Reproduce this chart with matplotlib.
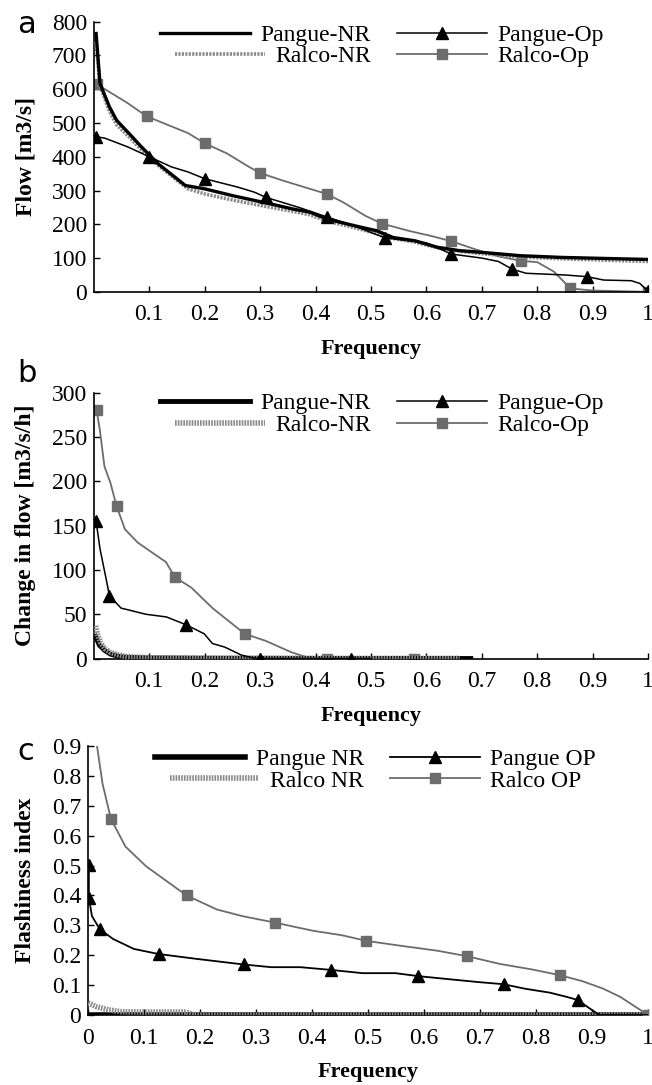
import matplotlib
matplotlib.use('Agg')
import matplotlib.pyplot as plt

plt.rcParams['font.family'] = ['Liberation Serif', 'DejaVu Serif']

# ---- panel a: flow duration curves ----
a_freq_pnr = [0.004, 0.011, 0.028, 0.041, 0.064, 0.086, 0.116, 0.146, 0.165, 0.2, 0.25, 0.32, 0.36, 0.39,
              0.42, 0.47, 0.51, 0.54, 0.58, 0.62, 0.66, 0.7, 0.77, 0.845, 0.92, 1.0]
a_flow_pnr = [765, 617, 548, 508, 468, 429, 379, 340, 315, 305, 285, 260, 245, 236,
              216, 196, 181, 161, 151, 132, 122, 117, 107, 102, 99, 96]
a_freq_rnr = [0.004, 0.011, 0.028, 0.041, 0.064, 0.086, 0.116, 0.146, 0.17, 0.2, 0.25, 0.32, 0.36, 0.39,
              0.42, 0.47, 0.51, 0.54, 0.58, 0.62, 0.66, 0.7, 0.77, 0.845, 0.92, 1.0]
a_flow_rnr = [740, 610, 535, 495, 458, 420, 375, 335, 305, 290, 272, 250, 238, 228,
              210, 190, 173, 158, 147, 130, 120, 113, 103, 98, 94, 90]
a_freq_pop = [0.003, 0.02, 0.06, 0.1, 0.14, 0.17, 0.2, 0.26, 0.29, 0.31, 0.37, 0.42, 0.47, 0.525,
              0.6, 0.645, 0.7, 0.73, 0.755, 0.78, 0.85, 0.89, 0.92, 0.97, 0.985, 1.0]
a_flow_pop = [460, 455, 430, 400, 370, 355, 335, 310, 295, 280, 250, 222, 195, 160,
              145, 112, 100, 90, 67, 55, 50, 45, 35, 33, 25, 2]
a_mark_pop = [0, 3, 6, 9, 11, 13, 15, 18, 21, 25]
a_freq_rop = [0.005, 0.03, 0.06, 0.095, 0.14, 0.17, 0.2, 0.24, 0.28, 0.3, 0.34, 0.39, 0.42, 0.45,
              0.49, 0.52, 0.57, 0.61, 0.645, 0.69, 0.73, 0.77, 0.8, 0.83, 0.86, 0.9, 1.0]
a_flow_rop = [615, 590, 560, 520, 490, 470, 440, 410, 370, 352, 330, 305, 290, 265,
              225, 202, 180, 165, 150, 125, 105, 92, 88, 60, 10, 4, 0]
a_mark_rop = [0, 3, 6, 9, 12, 15, 18, 21, 24, 26]

# ---- panel b: change in flow ----
b_freq_pnr = [0.003, 0.01, 0.02, 0.03, 0.045, 0.06, 0.1, 0.2, 0.4, 0.68]
b_chg_pnr = [25, 15, 9, 5, 2.5, 1.5, 0.8, 0.4, 0.2, 0.1]
b_freq_rnr = [0.003, 0.006, 0.012, 0.02, 0.03, 0.045, 0.06, 0.1, 0.2, 0.4, 0.66]
b_chg_rnr = [37, 28, 18, 11, 7, 4, 2, 1, 0.5, 0.3, 0.2]
b_freq_pop = [0.004, 0.011, 0.023, 0.028, 0.049, 0.094, 0.131, 0.167, 0.199, 0.214, 0.236,
              0.266, 0.289, 0.3, 0.464, 0.5]
b_chg_pop = [155, 124, 87, 71, 57, 50, 47, 38, 28, 17, 13, 4, 0.5, 0, 0, 0]
b_mark_pop = [0, 3, 7, 13, 14]
b_freq_rop = [0.005, 0.011, 0.019, 0.03, 0.041, 0.056, 0.079, 0.109, 0.13, 0.146, 0.176, 0.214,
              0.25, 0.272, 0.31, 0.357, 0.387, 0.42, 0.578, 0.6]
b_chg_rop = [280, 257, 217, 198, 172, 146, 131, 118, 109, 92, 80, 57, 39, 28, 20, 7, 1, 0, 0, 0]
b_mark_rop = [0, 4, 9, 13, 17, 18]

# ---- panel c: flashiness index ----
c_freq_pnr = [0.0, 0.5, 1.0]
c_fi_pnr = [0.0, 0.0, 0.0]
c_freq_rnr = [0.0, 0.015, 0.037, 0.06, 0.1, 0.175, 0.19, 0.5, 1.0]
c_fi_rnr = [0.04, 0.028, 0.017, 0.011, 0.01, 0.01, 0.0, 0.0, 0.0]
c_freq_pop = [0.0015, 0.0015, 0.007, 0.021, 0.045, 0.082, 0.126, 0.193, 0.278, 0.327, 0.379, 0.433,
              0.49, 0.549, 0.59, 0.638, 0.698, 0.742, 0.78, 0.824, 0.854, 0.875, 0.891, 0.913, 1.0]
c_fi_pop = [0.502, 0.392, 0.331, 0.287, 0.254, 0.221, 0.204, 0.188, 0.169, 0.16, 0.16, 0.151,
            0.14, 0.14, 0.13, 0.121, 0.11, 0.103, 0.088, 0.075, 0.061, 0.05, 0.028, 0.0, 0.0]
c_mark_pop = [0, 1, 3, 6, 8, 11, 14, 17, 21]
c_freq_rop = [0.016, 0.026, 0.041, 0.067, 0.104, 0.141, 0.176, 0.23, 0.275, 0.334, 0.401, 0.453,
              0.497, 0.557, 0.624, 0.676, 0.735, 0.794, 0.843, 0.883, 0.92, 0.95, 0.973, 1.0]
c_fi_rop = [0.9, 0.773, 0.655, 0.563, 0.497, 0.447, 0.40, 0.353, 0.331, 0.309, 0.282, 0.267,
            0.248, 0.232, 0.215, 0.197, 0.171, 0.152, 0.133, 0.113, 0.088, 0.061, 0.033, 0.0]
c_mark_rop = [2, 6, 9, 12, 15, 18, 23]

x_ticks = [0.1, 0.2, 0.3, 0.4, 0.5, 0.6, 0.7, 0.8, 0.9, 1.0]
x_labels_ab = ['0.1', '0.2', '0.3', '0.4', '0.5', '0.6', '0.7', '0.8', '0.9', '1']
x_ticks_c = [0, 0.1, 0.2, 0.3, 0.4, 0.5, 0.6, 0.7, 0.8, 0.9, 1.0]
x_labels_c = ['0'] + x_labels_ab
a_yticks = [0, 100, 200, 300, 400, 500, 600, 700, 800]
b_yticks = [0, 50, 100, 150, 200, 250, 300]
c_yticks = [0, 0.1, 0.2, 0.3, 0.4, 0.5, 0.6, 0.7, 0.8, 0.9]
c_ylabels = ['0', '0.1', '0.2', '0.3', '0.4', '0.5', '0.6', '0.7', '0.8', '0.9']

GRAY = '#6c6c6c'
NRGRAY = '#8a8a8a'
FS = 17


def style_axes(ax, xticks, xlabels, yticks, ylabels, ymax, ylabel):
    ax.set_xlim(0, 1)
    ax.set_ylim(0, ymax)
    ax.set_xticks(xticks)
    ax.set_xticklabels(xlabels)
    ax.set_yticks(yticks)
    ax.set_yticklabels(ylabels)
    ax.tick_params(direction='in', length=4, width=1, labelsize=FS, pad=5)
    ax.tick_params(axis='x', pad=9)
    for s in ['top', 'right']:
        ax.spines[s].set_visible(False)
    for s in ['left', 'bottom']:
        ax.spines[s].set_linewidth(1.2)
    ax.set_xlabel('Frequency', fontsize=16, fontweight='bold', labelpad=10)
    ax.set_ylabel(ylabel, fontsize=17, fontweight='bold', labelpad=11)


def add_legend(ax, handles, labels, anchor):
    leg = ax.legend(handles, labels, ncol=2, frameon=False, fontsize=17,
                    loc='upper left', bbox_to_anchor=anchor, handlelength=3.8,
                    handletextpad=0.45, columnspacing=1.1, labelspacing=0.0,
                    borderaxespad=0, borderpad=0)
    # first column in the original is right-aligned
    try:
        cols = leg._legend_handle_box.get_children()
        cols[0].align = 'right'
    except Exception:
        pass
    return leg


fig = plt.figure(figsize=(6.52, 10.85), dpi=100)

# panel a
ax = fig.add_axes([0.144, 0.731, 0.850, 0.249])
h1, = ax.plot(a_freq_rop, a_flow_rop, color=GRAY, lw=1.3, marker='s', ms=6.5,
              markevery=a_mark_rop, zorder=2)
h2, = ax.plot(a_freq_rnr, a_flow_rnr, color=NRGRAY, lw=2.6, dashes=(0.6, 0.35), zorder=3)
h3, = ax.plot(a_freq_pnr, a_flow_pnr, color='black', lw=2.4, zorder=4)
h4, = ax.plot(a_freq_pop, a_flow_pop, color='black', lw=1.1, marker='^', ms=8,
              markevery=a_mark_pop, zorder=5)
style_axes(ax, x_ticks, x_labels_ab, a_yticks, [str(v) for v in a_yticks], 800, 'Flow [m3/s]')
add_legend(ax, [h3, h2, h4, h1], ['Pangue-NR', 'Ralco-NR', 'Pangue-Op', 'Ralco-Op'], (0.12, 0.99))
fig.text(0.027, 0.977, 'a', fontsize=22, family='DejaVu Sans', va='center')

# panel b
ax = fig.add_axes([0.144, 0.393, 0.850, 0.245])
h1, = ax.plot(b_freq_rop, b_chg_rop, color=GRAY, lw=1.3, marker='s', ms=6.5,
              markevery=b_mark_rop, zorder=2)
h3, = ax.plot(b_freq_pnr, b_chg_pnr, color='black', lw=3.5, zorder=3)
h2, = ax.plot(b_freq_rnr, b_chg_rnr, color=NRGRAY, lw=4, dashes=(0.3, 0.2), zorder=4)
h4, = ax.plot(b_freq_pop, b_chg_pop, color='black', lw=1.1, marker='^', ms=8,
              markevery=b_mark_pop, zorder=5)
style_axes(ax, x_ticks, x_labels_ab, b_yticks, [str(v) for v in b_yticks], 300,
           'Change in flow [m3/s/h]')
add_legend(ax, [h3, h2, h4, h1], ['Pangue-NR', 'Ralco-NR', 'Pangue-Op', 'Ralco-Op'], (0.12, 1.0))
fig.text(0.027, 0.656, 'b', fontsize=22, family='DejaVu Sans', va='center')

# panel c
ax = fig.add_axes([0.135, 0.0645, 0.859, 0.248])
h3, = ax.plot(c_freq_pnr, c_fi_pnr, color='black', lw=4, zorder=2)
h2, = ax.plot(c_freq_rnr, c_fi_rnr, color=NRGRAY, lw=4, dashes=(0.3, 0.2), zorder=3)
h1, = ax.plot(c_freq_rop, c_fi_rop, color=GRAY, lw=1.3, marker='s', ms=6.5,
              markevery=c_mark_rop, zorder=4)
h4, = ax.plot(c_freq_pop, c_fi_pop, color='black', lw=1.3, marker='^', ms=8,
              markevery=c_mark_pop, zorder=5)
style_axes(ax, x_ticks_c, x_labels_c, c_yticks, c_ylabels, 0.9, 'Flashiness index')
add_legend(ax, [h3, h2, h4, h1], ['Pangue NR', 'Ralco NR', 'Pangue OP', 'Ralco OP'], (0.12, 0.99))
fig.text(0.027, 0.307, 'c', fontsize=22, family='DejaVu Sans', va='center')

fig.savefig('out.png', dpi=100)
